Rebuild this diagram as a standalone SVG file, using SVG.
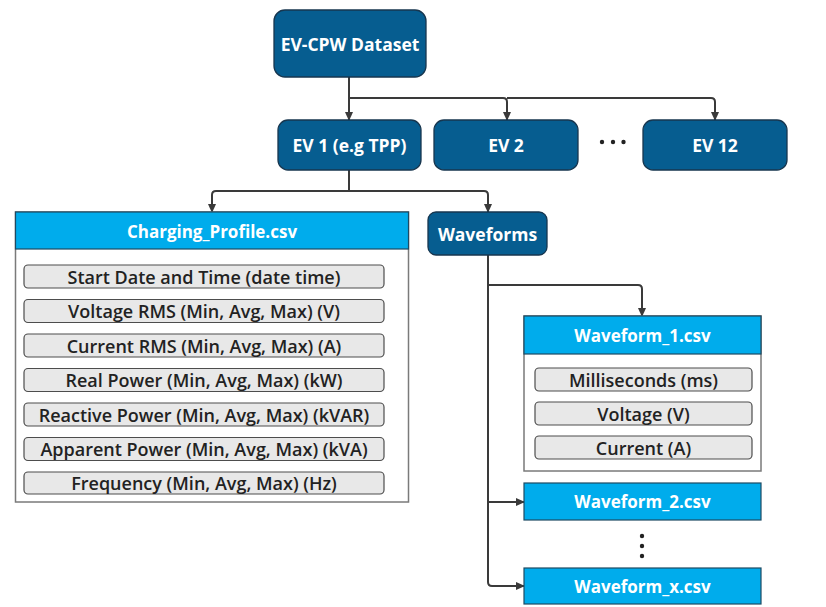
<svg xmlns="http://www.w3.org/2000/svg" width="826" height="607" viewBox="0 0 826 607">
<style>
.dark{fill:#065d90;stroke:#17364f;stroke-width:1.3}
.hdr{fill:#00acec;stroke:#1d4a63;stroke-width:1.2}
.panel{fill:#fff;stroke:#7a7a7a;stroke-width:1.5}
.item{fill:#e8e8e8;stroke:#4d4d4d;stroke-width:1.2}
.wt{fill:#fff;font-family:"Open Sans","Noto Sans",sans-serif;font-weight:700;text-anchor:middle;dominant-baseline:central}
.it{fill:#222;font-family:"Open Sans","Noto Sans",sans-serif;font-weight:600;font-size:18px;text-anchor:middle;dominant-baseline:central}
.con{fill:none;stroke:#3a3a3a;stroke-width:2;stroke-linejoin:round}
.dot{fill:#222}
</style>
<defs>
<marker id="arr" markerWidth="10" markerHeight="10" refX="8" refY="5" orient="auto" markerUnits="userSpaceOnUse">
<path d="M0,1 L9,5 L0,9 Z" fill="#3a3a3a"/>
</marker>
</defs>
<g id="connectors">
<path class="con" d="M349,77 V120" marker-end="url(#arr)"/>
<path class="con" d="M349,98 H503 Q507,98 507,102 V120" marker-end="url(#arr)"/>
<path class="con" d="M507,98 H711 Q715,98 715,102 V120" marker-end="url(#arr)"/>
<path class="con" d="M349,170 V191 H216 Q212,191 212,195 V212" marker-end="url(#arr)"/>
<path class="con" d="M349,191 H484 Q488,191 488,195 V212" marker-end="url(#arr)"/>
<path class="con" d="M488,255 V582 Q488,586 492,586 H524" marker-end="url(#arr)"/>
<path class="con" d="M488,285 H638 Q642,285 642,289 V316" marker-end="url(#arr)"/>
<path class="con" d="M488,502 H524" marker-end="url(#arr)"/>
</g>
<g id="dataset">
<rect class="dark" x="274" y="10" width="152" height="67" rx="11"/>
<text class="wt" x="350" y="44" font-size="17.5">EV-CPW Dataset</text>
</g>
<g id="ev1">
<rect class="dark" x="278" y="120" width="143" height="50" rx="10"/>
<text class="wt" x="349.5" y="145" font-size="17.5">EV 1 (e.g TPP)</text>
</g>
<g id="ev2">
<rect class="dark" x="434" y="120" width="144" height="50" rx="10"/>
<text class="wt" x="506" y="145" font-size="17.5">EV 2</text>
</g>
<g id="ev-dots">
<circle class="dot" cx="602" cy="142" r="2.2"/>
<circle class="dot" cx="613" cy="142" r="2.2"/>
<circle class="dot" cx="623.5" cy="142" r="2.2"/>
</g>
<g id="ev12">
<rect class="dark" x="643" y="120" width="144" height="50" rx="10"/>
<text class="wt" x="715" y="145" font-size="17.5">EV 12</text>
</g>
<g id="charging-profile">
<rect class="panel" x="15.5" y="212" width="393" height="290"/>
<rect class="hdr" x="15.5" y="212" width="393" height="37"/>
<text class="wt" x="212" y="231" font-size="17">Charging_Profile.csv</text>
<rect class="item" x="24" y="265" width="360" height="23" rx="4"/>
<text class="it" x="204" y="276.5">Start Date and Time (date time)</text>
<rect class="item" x="24" y="299.5" width="360" height="23" rx="4"/>
<text class="it" x="204" y="311">Voltage RMS (Min, Avg, Max) (V)</text>
<rect class="item" x="24" y="334" width="360" height="23" rx="4"/>
<text class="it" x="204" y="345.5">Current RMS (Min, Avg, Max) (A)</text>
<rect class="item" x="24" y="368.5" width="360" height="23" rx="4"/>
<text class="it" x="204" y="380">Real Power (Min, Avg, Max) (kW)</text>
<rect class="item" x="24" y="403" width="360" height="23" rx="4"/>
<text class="it" x="204" y="414.5">Reactive Power (Min, Avg, Max) (kVAR)</text>
<rect class="item" x="24" y="437.5" width="360" height="23" rx="4"/>
<text class="it" x="204" y="449">Apparent Power (Min, Avg, Max) (kVA)</text>
<rect class="item" x="24" y="472" width="360" height="22" rx="4"/>
<text class="it" x="204" y="483">Frequency (Min, Avg, Max) (Hz)</text>
</g>
<g id="waveforms">
<rect class="dark" x="428" y="212" width="119" height="43" rx="8"/>
<text class="wt" x="487.5" y="233.5" font-size="17.5">Waveforms</text>
</g>
<g id="waveform-1">
<rect class="panel" x="524" y="316" width="237" height="155"/>
<rect class="hdr" x="524" y="316" width="237" height="38"/>
<text class="wt" x="642.5" y="335" font-size="17">Waveform_1.csv</text>
<rect class="item" x="535" y="368" width="217" height="23" rx="4"/>
<text class="it" x="643.5" y="379.5">Milliseconds (ms)</text>
<rect class="item" x="535" y="402" width="217" height="23" rx="4"/>
<text class="it" x="643.5" y="413.5">Voltage (V)</text>
<rect class="item" x="535" y="436" width="217" height="23" rx="4"/>
<text class="it" x="643.5" y="447.5">Current (A)</text>
</g>
<g id="waveform-2">
<rect class="hdr" x="524" y="483" width="237" height="37"/>
<text class="wt" x="642.5" y="501.5" font-size="17">Waveform_2.csv</text>
</g>
<g id="wave-dots">
<circle class="dot" cx="642" cy="536" r="2.2"/>
<circle class="dot" cx="642" cy="546" r="2.2"/>
<circle class="dot" cx="642" cy="556" r="2.2"/>
</g>
<g id="waveform-x">
<rect class="hdr" x="524" y="568" width="237" height="36"/>
<text class="wt" x="642.5" y="586" font-size="17">Waveform_x.csv</text>
</g>
</svg>
